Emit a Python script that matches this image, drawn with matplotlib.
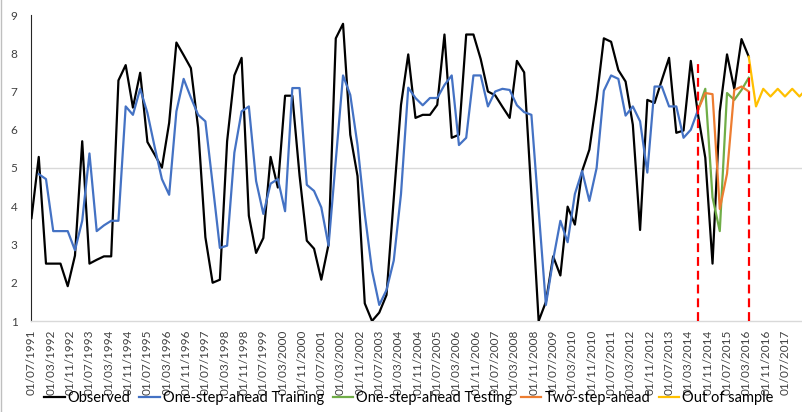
import matplotlib
matplotlib.use("Agg")
import matplotlib.pyplot as plt
from matplotlib.lines import Line2D

plt.rcParams['font.family'] = ['Lato', 'DejaVu Sans']

# ---- data (quarterly, index 0 = 01/07/1991) ----
observed = [3.69, 5.29, 2.5, 2.5, 2.5, 1.91, 2.71, 5.70, 2.5, 2.6,
            2.69, 2.69, 7.29, 7.69, 6.58, 7.49, 5.68, 5.35, 5.01, 6.18,
            8.28, 7.95, 7.61, 6.05, 3.19, 2.0, 2.08, 5.7, 7.42, 7.88,
            3.75, 2.78, 3.17, 5.29, 4.49, 6.89, 6.89, 4.8, 3.10, 2.89,
            2.08, 3.0, 8.39, 8.77, 5.87, 4.79, 1.46, 1.0, 1.22, 1.68,
            4.2, 6.65, 7.97, 6.31, 6.39, 6.39, 6.65, 8.49, 5.79, 5.87,
            8.49, 8.49, 7.85, 7.0, 6.9, 6.6, 6.31, 7.80, 7.50, 4.3,
            1.0, 1.5, 2.69, 2.19, 3.99, 3.52, 4.92, 5.48, 6.8, 8.39,
            8.30, 7.56, 7.26, 6.13, 3.38, 6.78, 6.70, 7.3, 7.88, 5.92,
            5.98, 7.80, 6.39, 5.27, 2.5, 6.48, 7.97, 7.07, 8.37, 7.91]
obs_start = 0

training = [4.84, 4.71, 3.35, 3.35, 3.35, 2.85, 3.62, 5.38, 3.35,
            3.5, 3.62, 3.62, 6.61, 6.39, 7.07, 6.44, 5.55, 4.71, 4.30,
            6.48, 7.33, 6.84, 6.39, 6.22, 4.58, 2.91, 2.97, 5.40, 6.48,
            6.61, 4.66, 3.80, 4.59, 4.71, 3.87, 7.09, 7.09, 4.56, 4.40,
            3.97, 2.97, 5.2, 7.42, 6.91, 5.6, 3.8, 2.32, 1.42, 1.81,
            2.58, 4.32, 7.1, 6.83, 6.64, 6.83, 6.83, 7.17, 7.42, 5.6,
            5.79, 7.42, 7.42, 6.61, 7.0, 7.07, 7.04, 6.64, 6.46, 6.39,
            3.9, 1.42, 2.6, 3.62, 3.06, 4.32, 4.92, 4.14, 5.0, 7.02,
            7.42, 7.33, 6.37, 6.61, 6.22, 4.88, 7.13, 7.13, 6.61, 6.61,
            5.79, 6.0, 6.52]
train_start = 1

testing = [6.52, 7.07, 4.23, 3.35, 6.96, 6.78, 7.04, 7.36]
test_start = 92

two_step = [6.52, 6.96, 6.93, 3.93, 4.85, 7.04, 7.13, 7.0]
two_start = 92

out_sample = [7.91, 6.61, 7.07, 6.87, 7.07, 6.87, 7.07, 6.87, 7.07]
out_start = 99

split_idx = [92, 99]
split_top = 7.75

# tick labels every 8 months from 01/07/1991 to 01/07/2017
tick_labels = []
y, m = 1991, 7
for k in range(40):
    tick_labels.append(f"01/{m:02d}/{y}")
    m += 8
    if m > 12:
        m -= 12
        y += 1
tick_pos = [k * 8 / 3 for k in range(40)]

# ---- figure ----
W, H = 803, 412
fig = plt.figure(figsize=(W / 100, H / 100), dpi=100)
left_px, top_px, bottom_px = 31.5, 15, 321
ax = fig.add_axes([left_px / W, (H - bottom_px) / H, 1 - left_px / W,
                   (bottom_px - top_px) / H])

def xs(start, n):
    return list(range(start, start + n))

lw = 1.6
ax.axhline(5, color='#D9D9D9', lw=1.0, zorder=0)
ax.plot(xs(obs_start, len(observed)), observed, color='black', lw=lw,
        label='Observed', zorder=3)
ax.plot(xs(train_start, len(training)), training, color='#4472C4', lw=lw,
        label='One-step-ahead Training', zorder=4)
ax.plot(xs(test_start, len(testing)), testing, color='#70AD47', lw=lw,
        label='One-step-ahead Testing', zorder=4)
ax.plot(xs(two_start, len(two_step)), two_step, color='#ED7D31', lw=lw,
        label='Two-step-ahead', zorder=5)
ax.plot(xs(out_start, len(out_sample)), out_sample, color='#FFC000', lw=lw,
        label='Out of sample', zorder=5)
ax.vlines(split_idx, 1, split_top, colors='#FF0000', linestyles=(0, (4, 2.2)),
          lw=1.6, zorder=6)

ax.set_xlim(0, (W - left_px) / 7.245)
ax.set_ylim(1, 9)
ax.set_yticks(range(1, 10))
ax.set_xticks(tick_pos)
ax.set_xticklabels(tick_labels, rotation=90, fontsize=8.5, color='#404040')
ax.tick_params(axis='y', length=0, pad=10, labelsize=8.5, labelcolor='#404040')
ax.tick_params(axis='x', length=0, pad=6)

for s in ['top', 'right']:
    ax.spines[s].set_visible(False)
ax.spines['bottom'].set_color('#D9D9D9')
ax.spines['bottom'].set_linewidth(1.0)
ax.spines['left'].set_color('#262626')
ax.spines['left'].set_linewidth(0.8)

leg = fig.legend(loc='center', bbox_to_anchor=(409 / W, 1 - 398 / H),
                 ncol=5, frameon=False, fontsize=10.5, handlelength=1.4,
                 handletextpad=0.2, columnspacing=0.6, borderpad=0)

fig.add_artist(Line2D([0.7 / W, 0.7 / W], [0, 1], transform=fig.transFigure,
                      color='#BFBFBF', lw=1.0))

fig.savefig('out.png', dpi=100)
